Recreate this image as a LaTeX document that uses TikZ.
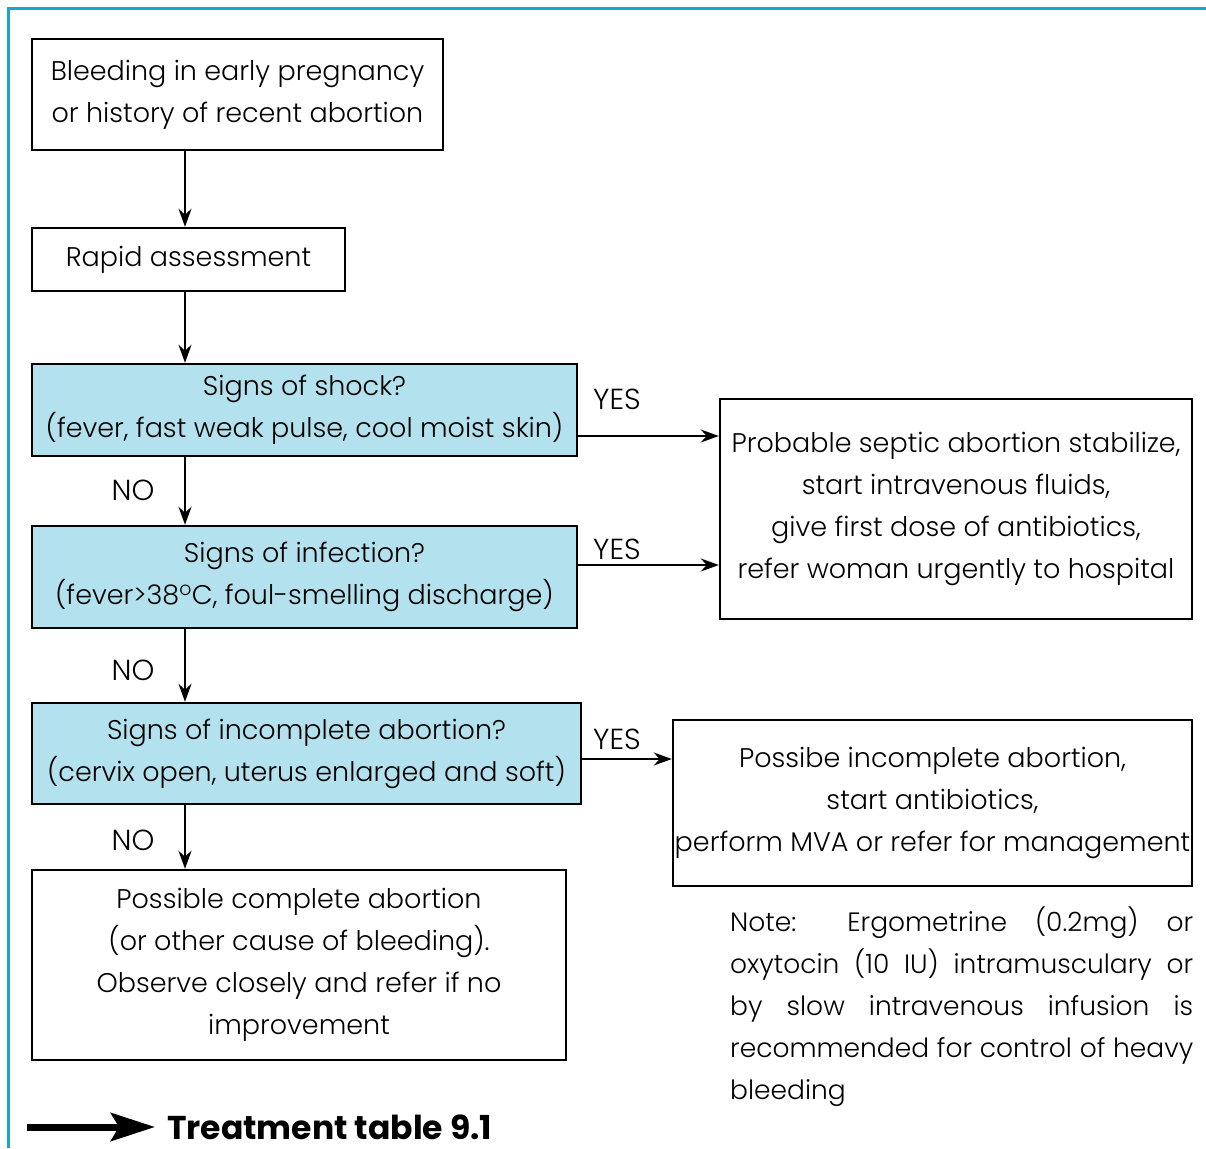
\documentclass[tikz,border=0pt]{standalone}
\usepackage{fontspec}
\setmainfont{Poppins}[UprightFont={* Light},BoldFont={* Bold}]
\usetikzlibrary{arrows.meta}
\definecolor{frame}{HTML}{1AA6CB}
\definecolor{qfill}{HTML}{B3E1ED}
\begin{document}
\begin{tikzpicture}[x=1pt,y=-1pt,
  box/.style={draw,line width=2.4pt,inner sep=0pt,align=center,font=\fontsize{27}{42}\selectfont},
  qbox/.style={box,fill=qfill},
  lbl/.style={inner sep=0pt,font=\fontsize{29}{42}\selectfont},
  arr/.style={line width=2.4pt,-{Stealth[length=18,width=13]}}]
\useasboundingbox (0,0) rectangle (1206,1148);
\draw[frame,line width=3pt] (8,1148) -- (8,9) -- (1206,9);
\coordinate (col) at (185,0);
\node[box,minimum width=411,minimum height=111] (b1) at (237.5,94.5) {Bleeding in early pregnancy\\or history of recent abortion};
\node[box,minimum width=313,minimum height=63] (b2) at (188.5,259.5) {Rapid assessment};
\node[qbox,minimum width=545,minimum height=92] (b3) at (304.5,410) {Signs of shock?\\(fever, fast weak pulse, cool moist skin)};
\node[qbox,minimum width=545,minimum height=102] (b4) at (304.5,577) {Signs of infection?\\(fever>38\textsuperscript{o}C, foul-smelling discharge)};
\node[qbox,minimum width=549,minimum height=101] (b5) at (306.5,753.5) {Signs of incomplete abortion?\\(cervix open, uterus enlarged and soft)};
\node[box,minimum width=534,minimum height=190] (b6) at (299,965) {Possible complete abortion\\(or other cause of bleeding).\\Observe closely and refer if no\\improvement};
\node[box,minimum width=472,minimum height=220] (r1) at (956,509) {Probable septic abortion stabilize,\\start intravenous fluids,\\give first dose of antibiotics,\\refer woman urgently to hospital};
\node[box,minimum width=519,minimum height=166] (r2) at (932.5,803) {Possibe incomplete abortion,\\start antibiotics,\\perform MVA or refer for management};
\coordinate (y1) at (0,436);
\coordinate (y2) at (0,565);
\coordinate (y3) at (0,759);
\draw[arr] (b1.south -| col) -- (b2.north -| col);
\draw[arr] (b2.south -| col) -- (b3.north -| col);
\draw[arr] (b3.south -| col) -- (b4.north -| col);
\draw[arr] (b4.south -| col) -- (b5.north -| col);
\draw[arr] (b5.south -| col) -- (b6.north -| col);
\draw[arr] (b3.east |- y1) -- (r1.west |- y1);
\draw[arr] (b4.east |- y2) -- (r1.west |- y2);
\draw[arr] (b5.east |- y3) -- (r2.west |- y3);
\node[lbl] (n1) at (133,490) {NO};
\node[lbl] (n2) at (133,670) {NO};
\node[lbl] (n3) at (133,840) {NO};
\node[lbl] (y1l) at (617,399) {YES};
\node[lbl] (y2l) at (617,549) {YES};
\node[lbl] (y3l) at (617,739) {YES};
\node[inner sep=0pt,anchor=north west,align=left,font=\fontsize{26.5}{42}\selectfont] (note) at (730,907) {%
\makebox[463pt][s]{Note: Ergometrine (0.2mg) or}\\
\makebox[463pt][s]{oxytocin (10 IU) intramusculary or}\\
\makebox[463pt][s]{by slow intravenous infusion is}\\
\makebox[463pt][s]{recommended for control of heavy}\\
bleeding};
\coordinate (ta) at (27,1127);
\coordinate (tb) at (155,1127);
\node[inner sep=0pt,anchor=base west,font=\fontsize{33}{38}\selectfont\bfseries] (tt) at (167,1139) {Treatment table 9.1};
\draw[line width=7pt,-{Stealth[length=44,width=28,inset=8]}] (ta) -- (tb);
\end{tikzpicture}
\end{document}
